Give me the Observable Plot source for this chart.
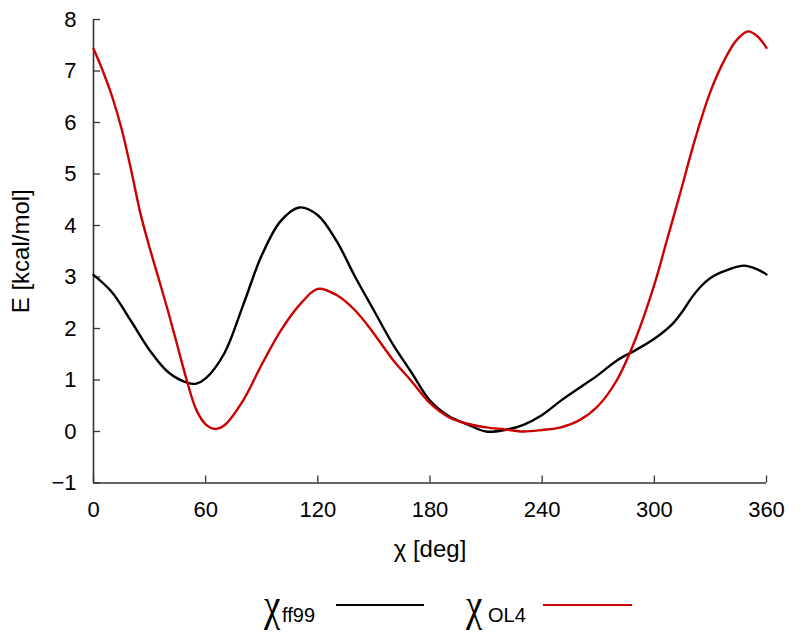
<!DOCTYPE html>
<html><head><meta charset="utf-8">
<script src="https://cdn.jsdelivr.net/npm/d3@7"></script>
<script src="https://cdn.jsdelivr.net/npm/@observablehq/plot@0.6"></script>
<style>
body{margin:0;background:#fff;font-family:"Liberation Sans",Arial,sans-serif;}
#chart svg{display:block;}
#legend{position:relative;width:800px;height:64px;}
#legend .chi{position:absolute;font-family:"Liberation Serif","DejaVu Serif",serif;font-size:46px;line-height:46px;transform:scaleX(0.8);transform-origin:left;}
#legend .sub{position:absolute;font-size:20px;line-height:20px;}
#legend .swatch{position:absolute;height:2px;}
</style></head><body>
<div id="chart"></div>
<div id="legend"></div>
<script>
const xTicks = [0, 60, 120, 180, 240, 300, 360];
const yTicks = [-1, 0, 1, 2, 3, 4, 5, 6, 7, 8];

const seriesNames = ["ff99", "OL4"];
const seriesColors = ["#000000", "#cc0000"];

const ff99Chi = [0,10,20,30,40,50,55,60,70,80,90,100,110,120,130,140,150,160,170,180,190,200,210,220,230,240,250,260,270,280,290,300,310,315,320,325,330,335,340,348,355,360];
const ff99E   = [3.04,2.7,2.15,1.58,1.15,0.95,0.93,1.03,1.52,2.45,3.42,4.08,4.35,4.2,3.7,3.0,2.35,1.7,1.15,0.6,0.3,0.14,0.0,0.03,0.13,0.32,0.6,0.85,1.1,1.38,1.58,1.8,2.1,2.33,2.6,2.82,2.98,3.08,3.15,3.22,3.15,3.05];

const ol4Chi = [0,5,10,15,20,25,30,35,40,45,50,55,60,65,70,80,90,100,110,120,130,140,150,160,170,180,190,200,210,220,230,240,250,260,270,280,290,300,307,314,322,330,338,344,350,355,360];
const ol4E   = [7.43,7.0,6.5,5.88,5.1,4.25,3.57,2.95,2.32,1.65,0.98,0.42,0.14,0.05,0.12,0.6,1.3,1.95,2.45,2.77,2.65,2.35,1.9,1.4,0.98,0.55,0.28,0.15,0.08,0.04,0.0,0.03,0.08,0.22,0.5,1.0,1.8,2.85,3.75,4.65,5.7,6.6,7.25,7.6,7.77,7.68,7.45];

const seriesChi = [ff99Chi, ol4Chi];
const seriesE = [ff99E, ol4E];

const rows = seriesNames.flatMap((name, s) =>
  seriesChi[s].map((c, i) => ({series: name, chi: c, e: seriesE[s][i]})));

const W = 800, H = 570, mT = 19, mR = 34, mB = 87.5, mL = 93;
const frameW = W - mL - mR, frameH = H - mT - mB, tickLen = 7;

const plot = Plot.plot({
  width: W,
  height: H,
  marginTop: mT,
  marginRight: mR,
  marginBottom: mB,
  marginLeft: mL,
  style: {fontFamily: '"Liberation Sans", Arial, sans-serif', fontSize: "22px", color: "#000", background: "#fff", overflow: "visible"},
  x: {domain: [xTicks[0], xTicks[xTicks.length - 1]]},
  y: {domain: [yTicks[0], yTicks[yTicks.length - 1]]},
  color: {domain: seriesNames, range: seriesColors},
  marks: [
    Plot.ruleX(xTicks, {stroke: "#333", strokeWidth: 1.3, insetTop: frameH - tickLen}),
    Plot.ruleY(yTicks, {stroke: "#333", strokeWidth: 1.3, insetRight: frameW - tickLen}),
    Plot.ruleX([xTicks[0]], {stroke: "#333", strokeWidth: 1.6}),
    Plot.ruleY([yTicks[0]], {stroke: "#333", strokeWidth: 1.6}),
    Plot.axisX(xTicks, {tickSize: 0, tickPadding: 18, label: null, fontSize: 22, tickFormat: d3.format("d")}),
    Plot.axisY(yTicks, {tickSize: 0, tickPadding: 17, label: null, fontSize: 22, tickFormat: d3.format("d")}),
    Plot.line(rows, {x: "chi", y: "e", z: "series", stroke: "series", strokeWidth: 2.4, curve: "catmull-rom"}),
    Plot.text(["χ [deg]"], {frameAnchor: "bottom", lineAnchor: "middle", dy: 66, fontSize: 24, fill: "#000"}),
    Plot.text(["E [kcal/mol]"], {frameAnchor: "left", textAnchor: "middle", lineAnchor: "middle", dx: -72, rotate: -90, fontSize: 24, fill: "#000"})
  ]
});
document.getElementById("chart").appendChild(plot);

// legend
const legend = document.getElementById("legend");
const legendLayout = [
  {chiLeft: 264, subLeft: 282, lineLeft: 336, lineWidth: 88},
  {chiLeft: 466, subLeft: 488, lineLeft: 543, lineWidth: 89}
];
seriesNames.forEach((name, i) => {
  const L = legendLayout[i];
  const c = document.createElement("span");
  c.className = "chi"; c.textContent = "χ";
  c.style.left = L.chiLeft + "px"; c.style.top = "12px";
  legend.appendChild(c);
  const s = document.createElement("span");
  s.className = "sub"; s.textContent = name;
  s.style.left = L.subLeft + "px"; s.style.top = "35px";
  legend.appendChild(s);
  const w = document.createElement("div");
  w.className = "swatch";
  w.style.left = L.lineLeft + "px"; w.style.width = L.lineWidth + "px"; w.style.top = "34px";
  w.style.background = seriesColors[i];
  legend.appendChild(w);
});
</script>
</body></html>
